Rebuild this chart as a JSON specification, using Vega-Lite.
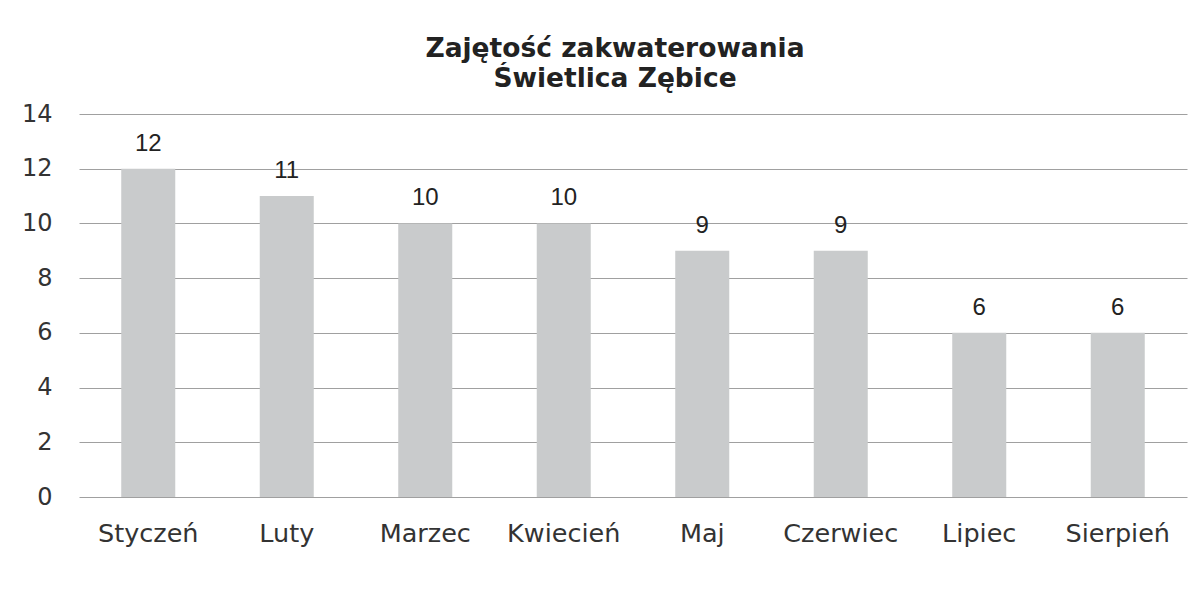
{
  "$schema": "https://vega.github.io/schema/vega-lite/v6.json",
  "width": 1108,
  "height": 383,
  "autosize": {"type": "none"},
  "padding": {"left": 79, "top": 114, "right": 1, "bottom": 95},
  "background": "white",
  "title": {
    "text": ["Zajętość zakwaterowania", "Świetlica Zębice"],
    "font": "DejaVu Sans",
    "fontSize": 26.5,
    "fontWeight": "bold",
    "color": "#222222",
    "anchor": "middle",
    "dx": -18,
    "offset": 10,
    "lineHeight": 30
  },
  "data": {
    "values": [
      {"miesiac": "Styczeń", "wartosc": 12},
      {"miesiac": "Luty", "wartosc": 11},
      {"miesiac": "Marzec", "wartosc": 10},
      {"miesiac": "Kwiecień", "wartosc": 10},
      {"miesiac": "Maj", "wartosc": 9},
      {"miesiac": "Czerwiec", "wartosc": 9},
      {"miesiac": "Lipiec", "wartosc": 6},
      {"miesiac": "Sierpień", "wartosc": 6}
    ]
  },
  "encoding": {
    "x": {
      "field": "miesiac",
      "type": "nominal",
      "sort": null,
      "scale": {"paddingInner": 0.61, "paddingOuter": 0.305},
      "axis": {
        "title": null,
        "labelAngle": 0,
        "domain": false,
        "ticks": false,
        "labelFont": "DejaVu Sans",
        "labelFontSize": 25.5,
        "labelColor": "#333333",
        "labelPadding": 24
      }
    },
    "y": {
      "field": "wartosc",
      "type": "quantitative",
      "scale": {"domain": [0, 14]},
      "axis": {
        "title": null,
        "values": [0, 2, 4, 6, 8, 10, 12, 14],
        "domain": false,
        "ticks": false,
        "gridColor": "#a0a0a0",
        "gridWidth": 1,
        "labelFont": "DejaVu Sans",
        "labelFontSize": 24,
        "labelColor": "#333333",
        "labelPadding": 27
      }
    }
  },
  "layer": [
    {"mark": {"type": "bar", "color": "#c9cbcc"}},
    {
      "mark": {
        "type": "text",
        "dy": -25,
        "font": "Liberation Sans",
        "fontSize": 24,
        "color": "#222222"
      },
      "encoding": {"text": {"field": "wartosc", "type": "quantitative"}}
    }
  ],
  "config": {"view": {"stroke": null}}
}
